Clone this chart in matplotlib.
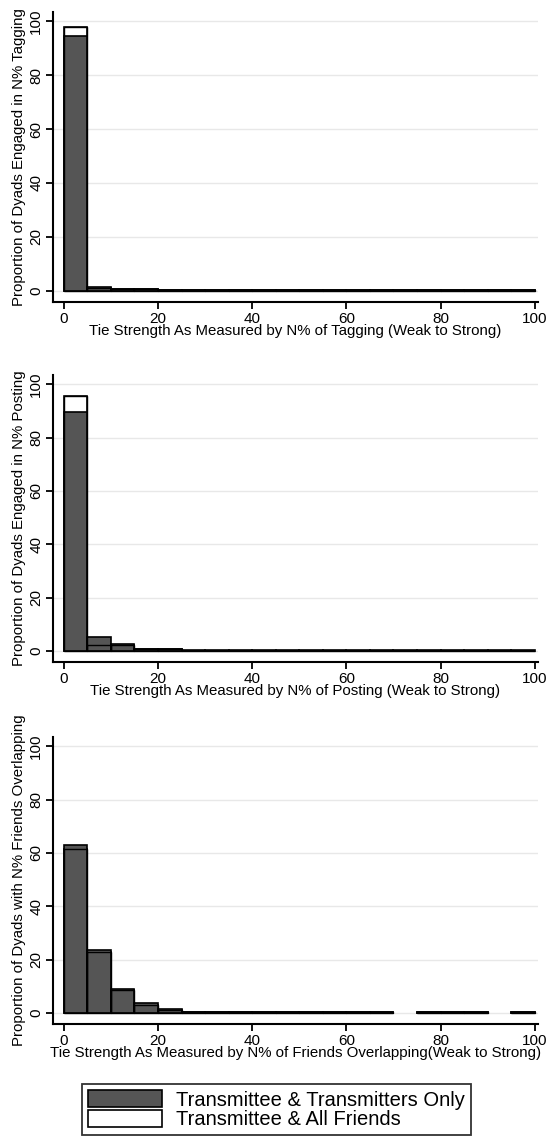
import numpy as np
import matplotlib
matplotlib.use("Agg")
import matplotlib.pyplot as plt
from matplotlib.patches import Patch

plt.rcParams['font.family'] = ['Liberation Sans', 'DejaVu Sans']

# bins of width 5 from 0 to 100
bin_edges = list(range(0, 100, 5))

# N% of tagging
tag_only = [94.5, 1.4, 0.7, 0.7, 0.15, 0.15, 0.15, 0.15, 0.15, 0.15,
            0.15, 0.15, 0.15, 0.15, 0.15, 0.15, 0.15, 0.15, 0.15, 0.15]
tag_all = [98.0, 1.0, 0.5, 0.5, 0.1, 0.1, 0.1, 0.1, 0.1, 0.1,
           0.1, 0.1, 0.1, 0.1, 0.1, 0.1, 0.1, 0.1, 0.1, 0.1]

# N% of posting
post_only = [89.5, 5.0, 2.5, 0.8, 0.8, 0.15, 0.15, 0.15, 0.15, 0.15,
             0.15, 0.15, 0.15, 0.15, 0.15, 0.15, 0.15, 0.15, 0.15, 0.15]
post_all = [95.5, 2.3, 2.0, 0.5, 0.5, 0.1, 0.1, 0.1, 0.1, 0.1,
            0.1, 0.1, 0.1, 0.1, 0.1, 0.1, 0.1, 0.1, 0.1, 0.1]

# N% of friends overlapping
friend_only = [63.0, 23.5, 9.0, 3.5, 1.5, 0.4, 0.4, 0.4, 0.4, 0.4,
               0.4, 0.4, 0.4, 0.4, 0.0, 0.4, 0.4, 0.4, 0.0, 0.4]
friend_all = [61.5, 23.0, 8.5, 3.0, 1.0, 0.3, 0.3, 0.3, 0.3, 0.3,
              0.3, 0.3, 0.3, 0.3, 0.0, 0.3, 0.3, 0.3, 0.0, 0.3]

ylabels = ["Proportion of Dyads Engaged in N% Tagging",
           "Proportion of Dyads Engaged in N% Posting",
           "Proportion of Dyads with N% Friends Overlapping"]
xlabels = ["Tie Strength As Measured by N% of Tagging (Weak to Strong)",
           "Tie Strength As Measured by N% of Posting (Weak to Strong)",
           "Tie Strength As Measured by N% of Friends Overlapping(Weak to Strong)"]

DARK = "#555555"
W, H = 547, 1140


def draw_hist(ax, only, allf, ylab, xlab):
    x = np.array(bin_edges)
    only = np.array(only)
    allf = np.array(allf)
    m1 = allf > 0
    m2 = only > 0
    ax.bar(x[m1], allf[m1], width=5, align="edge", color="white",
           edgecolor="black", linewidth=1.2, zorder=2)
    ax.bar(x[m2], only[m2], width=5, align="edge", color=DARK,
           edgecolor="black", linewidth=1.2, zorder=3)
    # outline of the "all friends" bars stays visible on top
    ax.bar(x[m1], allf[m1], width=5, align="edge", fill=False,
           edgecolor="black", linewidth=1.0, zorder=4)

    ax.set_xlim(-2.3, 100.7)
    ax.set_ylim(-4.2, 103.5)
    ax.set_xticks([0, 20, 40, 60, 80, 100])
    ax.set_yticks([0, 20, 40, 60, 80, 100])
    ax.yaxis.grid(True, color="#e8e8e8", linewidth=1.0, zorder=0)
    ax.set_axisbelow(True)
    for s in ["top", "right"]:
        ax.spines[s].set_visible(False)
    for s in ["left", "bottom"]:
        ax.spines[s].set_linewidth(1.5)
    ax.tick_params(direction="out", length=5, width=1.3, labelsize=11, pad=2)
    for lab in ax.get_yticklabels():
        lab.set_rotation(90)
        lab.set_va("center")
    ax.set_ylabel(ylab, fontsize=10.8, labelpad=2)
    ax.set_xlabel(xlab, fontsize=10.8, labelpad=-1)


fig = plt.figure(figsize=(W / 100, H / 100), dpi=100)

# (top, bottom) pixel positions of each panel
panels = [(12, 302), (375, 662), (737, 1024)]
data = [(tag_only, tag_all), (post_only, post_all), (friend_only, friend_all)]
left, right = 53, 538
for i, (top, bot) in enumerate(panels):
    ax = fig.add_axes([left / W, (H - bot) / H, (right - left) / W, (bot - top) / H])
    draw_hist(ax, data[i][0], data[i][1], ylabels[i], xlabels[i])

handles = [Patch(facecolor=DARK, edgecolor="black", linewidth=1.2),
           Patch(facecolor="white", edgecolor="black", linewidth=1.2)]
leg = fig.legend(handles, ["Transmittee & Transmitters Only", "Transmittee & All Friends"],
                 loc="center", bbox_to_anchor=(276.5 / W, 1 - 1109.5 / H),
                 fontsize=14.5, frameon=True, fancybox=False, edgecolor="black",
                 handlelength=3.7, handleheight=0.95, labelspacing=0.0,
                 borderpad=0.3, handletextpad=0.7, borderaxespad=0)
leg.get_frame().set_linewidth(1.3)

fig.savefig("out.png", dpi=100)
